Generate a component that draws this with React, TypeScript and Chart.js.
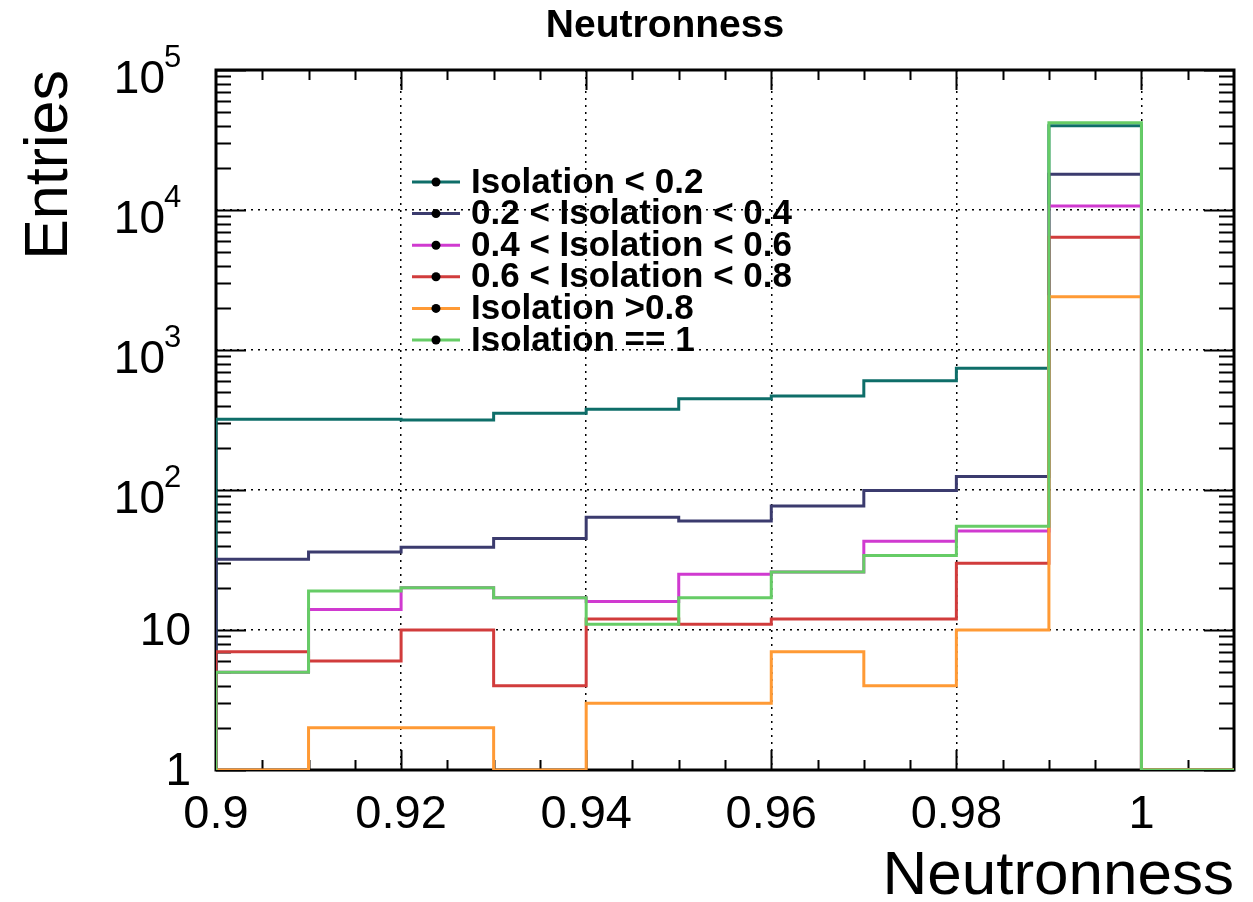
import React, { useEffect, useRef } from "react";
import { Chart, registerables } from "chart.js";

Chart.register(...registerables);

// ---- data ----
const binEdges = [0.9, 0.91, 0.92, 0.93, 0.94, 0.95, 0.96, 0.97, 0.98, 0.99, 1.0, 1.01];
const seriesLabels = [
  "Isolation < 0.2",
  "0.2 < Isolation < 0.4",
  "0.4 < Isolation < 0.6",
  "0.6 < Isolation < 0.8",
  "Isolation >0.8",
  "Isolation == 1",
];
const isoBelow02 = [320, 320, 316, 353, 377, 449, 469, 604, 740, 40000, 0];
const iso02to04 = [32, 36, 39, 45, 64, 60, 77, 99, 125, 18000, 0];
const iso04to06 = [5, 14, 20, 17, 16, 25, 26, 43, 51, 10700, 0];
const iso06to08 = [7, 6, 10, 4, 12, 11, 12, 12, 30, 6400, 0];
const isoAbove08 = [1, 2, 2, 1, 3, 3, 7, 4, 10, 2400, 0];
const isoEq1 = [5, 19, 20, 17, 11, 17, 26, 34, 55, 42000, 0];
const seriesValues = [isoBelow02, iso02to04, iso04to06, iso06to08, isoAbove08, isoEq1];
const seriesColors = ["#0e6e69", "#3b3b6e", "#d03ad0", "#d13c3c", "#ff9a35", "#66cc66"];

const xTickValues = [0.9, 0.92, 0.94, 0.96, 0.98, 1.0];
const xTickLabels = ["0.9", "0.92", "0.94", "0.96", "0.98", "1"];
const yTickValues = [1, 10, 100, 1000, 10000, 100000];
const yTickBase = ["1", "10", "10", "10", "10", "10"];
const yTickExp = ["", "", "2", "3", "4", "5"];

const chartTitle = "Neutronness";
const xTitle = "Neutronness";
const yTitle = "Entries";

const X_MIN = 0.9;
const X_MAX = 1.01;
const Y_MIN = 1;
const Y_MAX = 100000;

const FONT = "'Liberation Sans', Arial, Helvetica, sans-serif";

function stepPoints(vals: number[]) {
  const pts: { x: number; y: number }[] = [{ x: binEdges[0], y: Y_MIN }];
  vals.forEach((v, k) => pts.push({ x: binEdges[k], y: Math.max(v, Y_MIN) }));
  pts.push({ x: binEdges[binEdges.length - 1], y: Math.max(vals[vals.length - 1], Y_MIN) });
  return pts;
}

const decorPlugin = {
  id: "decor",
  beforeDatasetsDraw(chart: any) {
    const { ctx, chartArea, scales } = chart;
    const { left, right, top, bottom } = chartArea;
    const xs = scales.x;
    const ys = scales.y;
    ctx.save();
    ctx.strokeStyle = "#000";
    // frame
    ctx.lineWidth = 3;
    ctx.strokeRect(left, top, right - left, bottom - top);
    // x ticks (inside, bottom and top)
    ctx.lineWidth = 2;
    for (let k = 1; k < 22; k++) {
      const v = X_MIN + k * 0.005;
      const isMajor = xTickValues.some((t) => Math.abs(t - v) < 1e-6);
      const len = isMajor ? 20 : 10;
      const px = Math.round(xs.getPixelForValue(v)) + 0.5;
      ctx.beginPath();
      ctx.moveTo(px, bottom);
      ctx.lineTo(px, bottom - len);
      ctx.moveTo(px, top);
      ctx.lineTo(px, top + len);
      ctx.stroke();
    }
    // y ticks (inside, left and right)
    for (let d = 0; d < yTickValues.length; d++) {
      const dec = yTickValues[d];
      for (let m = 1; m <= 9; m++) {
        const v = dec * m;
        if (v > Y_MAX) break;
        const len = m === 1 ? 30 : 15;
        const py = Math.round(ys.getPixelForValue(v)) + 0.5;
        ctx.beginPath();
        ctx.moveTo(left, py);
        ctx.lineTo(left + len, py);
        ctx.moveTo(right, py);
        ctx.lineTo(right - len, py);
        ctx.stroke();
      }
    }
    ctx.restore();
  },
  afterDraw(chart: any) {
    const { ctx, scales } = chart;
    const ys = scales.y;
    ctx.save();
    ctx.fillStyle = "#000";
    // y tick labels with superscripts
    yTickValues.forEach((v, i) => {
      const py = ys.getPixelForValue(v);
      if (yTickExp[i]) {
        ctx.font = `46px ${FONT}`;
        ctx.textAlign = "right";
        ctx.textBaseline = "middle";
        ctx.fillText(yTickBase[i], 165, py + 10);
        ctx.font = `31px ${FONT}`;
        ctx.textAlign = "left";
        ctx.fillText(yTickExp[i], 164, py - 12);
      } else {
        ctx.font = `46px ${FONT}`;
        ctx.textAlign = "right";
        ctx.textBaseline = "middle";
        ctx.fillText(yTickBase[i], 191, py + 2);
      }
    });
    // title
    ctx.font = `bold 39px ${FONT}`;
    ctx.textAlign = "center";
    ctx.textBaseline = "middle";
    ctx.fillText(chartTitle, 665, 26);
    // legend
    chart.data.datasets.forEach((ds: any, i: number) => {
      const y = 182 + i * 31.6;
      ctx.strokeStyle = ds.borderColor;
      ctx.lineWidth = 3;
      ctx.beginPath();
      ctx.moveTo(412, y);
      ctx.lineTo(460, y);
      ctx.stroke();
      ctx.fillStyle = "#000";
      ctx.beginPath();
      ctx.arc(436, y, 4.5, 0, Math.PI * 2);
      ctx.fill();
      ctx.font = `bold 35px ${FONT}`;
      ctx.textAlign = "left";
      ctx.textBaseline = "middle";
      ctx.fillText(ds.label, 471, y + 1);
    });
    ctx.restore();
  },
};

export default function App() {
  const canvasRef = useRef<HTMLCanvasElement | null>(null);

  useEffect(() => {
    if (!canvasRef.current) return;
    const datasets = seriesValues.map((vals, i) => ({
      label: seriesLabels[i],
      data: stepPoints(vals),
      borderColor: seriesColors[i],
      backgroundColor: seriesColors[i],
      borderWidth: 3,
      pointRadius: 0,
      fill: false,
      stepped: "before" as const,
      tension: 0,
      order: seriesValues.length - i,
    }));
    const chart = new Chart(canvasRef.current, {
      type: "line",
      data: { datasets },
      options: {
        responsive: false,
        animation: false,
        devicePixelRatio: 1,
        layout: { padding: { left: 0, right: 19, top: 70, bottom: 0 } },
        plugins: { legend: { display: false }, tooltip: { enabled: false }, title: { display: false } },
        scales: {
          x: {
            type: "linear",
            min: X_MIN,
            max: X_MAX,
            afterBuildTicks: (s: any) => {
              s.ticks = xTickValues.map((v) => ({ value: v }));
            },
            afterFit: (s: any) => {
              s.height = 132;
            },
            ticks: {
              autoSkip: false,
              maxRotation: 0,
              padding: 17,
              color: "#000",
              font: { family: FONT, size: 47 },
              callback: (_v: any, i: number) => xTickLabels[i],
            },
            grid: { color: "#000", lineWidth: 1.5, drawTicks: false },
            border: { display: false, dash: [2, 5] },
            title: {
              display: true,
              text: xTitle,
              align: "end",
              color: "#000",
              font: { family: FONT, size: 62, lineHeight: 0.6 },
              padding: { top: 0, bottom: 6 },
            },
          },
          y: {
            type: "logarithmic",
            min: Y_MIN,
            max: Y_MAX,
            afterBuildTicks: (s: any) => {
              s.ticks = yTickValues.map((v) => ({ value: v }));
            },
            afterFit: (s: any) => {
              s.width = 216;
            },
            ticks: { display: false },
            grid: { color: "#000", lineWidth: 1.5, drawTicks: false },
            border: { display: false, dash: [2, 5] },
            title: {
              display: true,
              text: yTitle,
              align: "end",
              color: "#000",
              font: { family: FONT, size: 61 },
              padding: { top: 14, bottom: 0 },
            },
          },
        },
      },
      plugins: [decorPlugin],
    });
    return () => chart.destroy();
  }, []);

  return (
    <div style={{ position: "fixed", left: 0, top: 0, width: 1253, height: 902, background: "#fff" }}>
      <canvas ref={canvasRef} width={1253} height={902} style={{ display: "block" }} />
    </div>
  );
}
